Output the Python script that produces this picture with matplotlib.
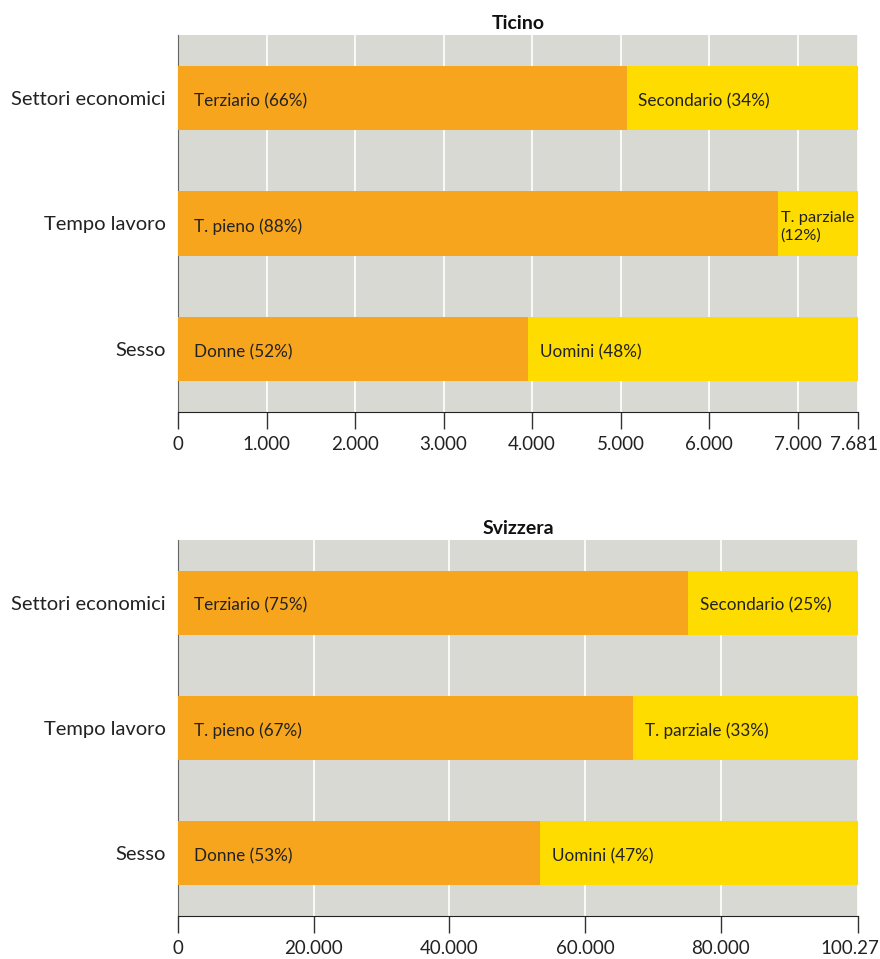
import matplotlib
matplotlib.use("Agg")
import matplotlib.pyplot as plt
from matplotlib.transforms import ScaledTranslation

plt.rcParams['font.family'] = ['Lato', 'DejaVu Sans']

categories = ["Sesso", "Tempo lavoro", "Settori economici"]

ticino_total = 7681
ticino_first = [3955, 6775, 5070]
ticino_second = [3726, 906, 2611]
ticino_first_labels = ["Donne (52%)", "T. pieno (88%)", "Terziario (66%)"]
ticino_second_labels = ["Uomini (48%)", "T. parziale\n(12%)", "Secondario (34%)"]
ticino_ticks = [0, 1000, 2000, 3000, 4000, 5000, 6000, 7000, 7681]
ticino_ticklabels = ["0", "1.000", "2.000", "3.000", "4.000", "5.000", "6.000", "7.000", "7.681"]

svizzera_total = 100270
svizzera_first = [53380, 67090, 75200]
svizzera_second = [46890, 33180, 25070]
svizzera_first_labels = ["Donne (53%)", "T. pieno (67%)", "Terziario (75%)"]
svizzera_second_labels = ["Uomini (47%)", "T. parziale (33%)", "Secondario (25%)"]
svizzera_ticks = [0, 20000, 40000, 60000, 80000, 100270]
svizzera_ticklabels = ["0", "20.000", "40.000", "60.000", "80.000", "100.27"]

ORANGE = "#F7A51D"
YELLOW = "#FFDC00"
BG = "#D9D9D4"

fig = plt.figure(figsize=(8.8, 9.59), dpi=100)
W, H = 880, 959

def make_panel(rect, title, total, first, second, l1, l2, ticks, ticklabels, last_shift):
    ax = fig.add_axes(rect)
    ax.set_facecolor(BG)
    y = range(len(categories))
    ax.barh(y, first, height=0.51, color=ORANGE, zorder=3)
    ax.barh(y, second, left=first, height=0.51, color=YELLOW, zorder=3)
    ax.set_xlim(0, total)
    ax.set_ylim(-0.5, 2.5)
    ax.set_yticks(list(y))
    ax.set_yticklabels(categories)
    ax.tick_params(axis='y', length=0, pad=9, labelsize=14.5, labelcolor="#222222")
    ax.set_xticks(ticks)
    ax.set_xticklabels(ticklabels)
    ax.tick_params(axis='x', direction='out', length=12, width=1, color="#333333", pad=5,
                   labelsize=13.5, labelcolor="#222222")
    last = ax.get_xticklabels()[-1]
    last.set_transform(last.get_transform() + ScaledTranslation(last_shift / 100, 0, fig.dpi_scale_trans))
    ax.grid(axis='x', color='white', linewidth=1.2, zorder=1)
    ax.set_axisbelow(True)
    for s in ['top', 'right']:
        ax.spines[s].set_visible(False)
    ax.spines['left'].set_color('#666666')
    ax.spines['bottom'].set_color('#222222')
    off = total * 0.024
    for i in y:
        ax.text(off, i - 0.025, l1[i], va='center', ha='left', fontsize=12.3, color="#222222", zorder=4)
        wrapped = "\n" in l2[i]
        gap = total * (0.004 if wrapped else 0.017)
        ax.text(first[i] + gap, i - 0.025, l2[i], va='center', ha='left',
                fontsize=11.8 if wrapped else 12.3,
                color="#222222", zorder=4, linespacing=1.3)
    ax.set_title(title, fontsize=14, fontweight='bold', pad=4, color="#111111")
    return ax

x0 = 178 / W
w = 680 / W
make_panel([x0, 1 - 412 / H, w, 377 / H], "Ticino", ticino_total, ticino_first, ticino_second,
           ticino_first_labels, ticino_second_labels, ticino_ticks, ticino_ticklabels, -4)
make_panel([x0, 1 - 916 / H, w, 376 / H], "Svizzera", svizzera_total, svizzera_first, svizzera_second,
           svizzera_first_labels, svizzera_second_labels, svizzera_ticks, svizzera_ticklabels, -8)

fig.savefig("out.png", dpi=100)
